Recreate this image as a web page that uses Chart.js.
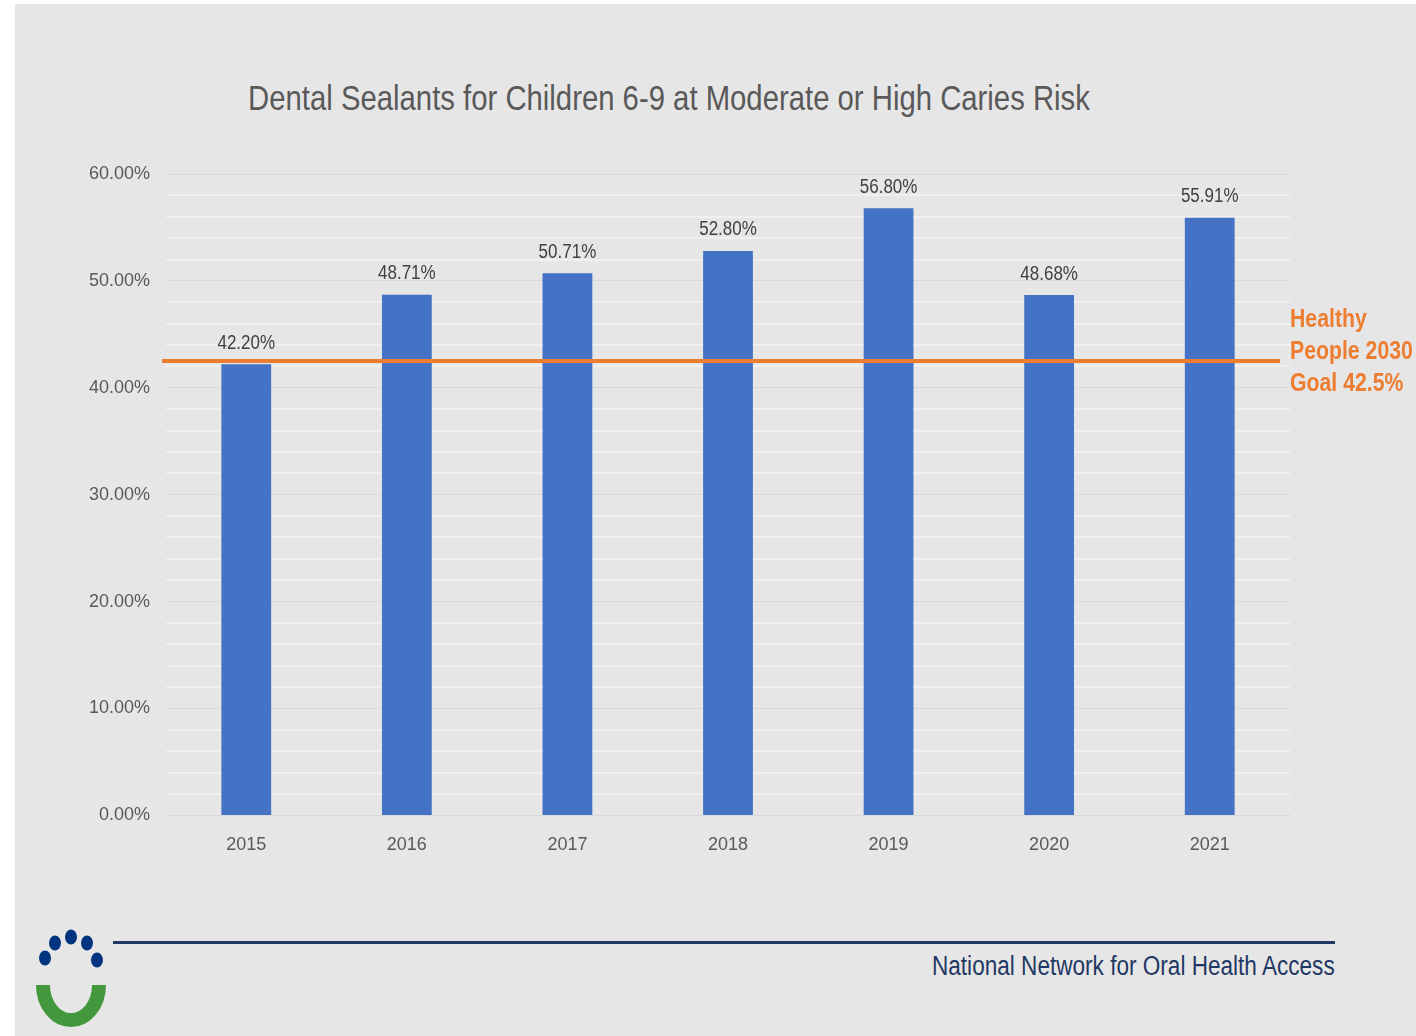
<!DOCTYPE html>
<html>
<head>
<meta charset="utf-8">
<script src="https://cdn.jsdelivr.net/npm/chart.js@4.4.1/dist/chart.umd.min.js"></script>
<style>
  html, body { margin: 0; padding: 0; background: #fff; }
  body { width: 1416px; height: 1036px; position: relative; overflow: hidden; font-family: "Liberation Sans", Arial, sans-serif; }
  #bg { position: absolute; left: 15px; top: 4px; right: 0; bottom: 0; background: #e7e6e6; }
  #title { position: absolute; left: 669px; top: 78px; transform: translateX(-50%) scaleX(0.837); white-space: nowrap; font-size: 35px; color: #595959; }
  #wrap { position: absolute; left: 0; top: 0; width: 1416px; height: 900px; }
  #rule { position: absolute; left: 113px; top: 941px; width: 1222px; height: 3px; background: #1f3864; }
  #org { position: absolute; right: 81px; top: 951px; font-size: 27px; color: #1f3864; white-space: nowrap; transform: scaleX(0.836); transform-origin: right center; }
  #logo { position: absolute; left: 30px; top: 925px; }
</style>
</head>
<body>
<div id="bg"></div>
<div id="title">Dental Sealants for Children 6-9 at Moderate or High Caries Risk</div>
<div id="wrap"><canvas id="chart"></canvas></div>
<div id="rule"></div>
<div id="org">National Network for Oral Health Access</div>
<svg id="logo" width="90" height="110" viewBox="30 925 90 110">
  <g fill="#003380">
    <ellipse cx="45" cy="958" rx="6" ry="7.5"/>
    <ellipse cx="55" cy="943" rx="6" ry="7.5"/>
    <ellipse cx="71" cy="937" rx="6" ry="7.5"/>
    <ellipse cx="87" cy="943" rx="6" ry="7.5"/>
    <ellipse cx="97" cy="960" rx="6" ry="7.5"/>
  </g>
  <path d="M 43 985 A 28 35 0 0 0 99 985" fill="none" stroke="#43973c" stroke-width="14"/>
</svg>
<script>
const years = ['2015', '2016', '2017', '2018', '2019', '2020', '2021'];
const sealantRates = [42.20, 48.71, 50.71, 52.80, 56.80, 48.68, 55.91];
const goalValue = 42.5;
const goalLabel = ['Healthy', 'People 2030', 'Goal 42.5%'];
const yTicks = [0, 10, 20, 30, 40, 50, 60];

const FONT = '"Liberation Sans", Arial, sans-serif';
const GREY_TXT = '#595959';
const SQUEEZE = 0.85; // reference font is narrower than anything installed

function narrowText(ctx, text, x, y) {
  ctx.save();
  ctx.translate(x, y);
  ctx.scale(SQUEEZE, 1);
  ctx.fillText(text, 0, 0);
  ctx.restore();
}

// bar value labels + goal line + goal caption
const extras = {
  id: 'extras',
  afterDatasetsDraw(chart) {
    const { ctx, chartArea, scales } = chart;
    const meta = chart.getDatasetMeta(0);
    ctx.save();
    ctx.font = '20px ' + FONT;
    ctx.fillStyle = '#404040';
    ctx.textAlign = 'center';
    ctx.textBaseline = 'bottom';
    meta.data.forEach((bar, i) => {
      narrowText(ctx, sealantRates[i].toFixed(2) + '%', bar.x, bar.y - 11);
    });

    const gy = scales.y.getPixelForValue(goalValue);
    ctx.strokeStyle = '#ed7d31';
    ctx.lineWidth = 4;
    ctx.beginPath();
    ctx.moveTo(chartArea.left - 4, gy);
    ctx.lineTo(chartArea.right - 10, gy);
    ctx.stroke();

    ctx.font = 'bold 25px ' + FONT;
    ctx.fillStyle = '#ed7d31';
    ctx.textAlign = 'left';
    ctx.textBaseline = 'middle';
    goalLabel.forEach((t, i) => narrowText(ctx, t, chartArea.right, gy - 41 + i * 32));
    ctx.restore();
  }
};

new Chart(document.getElementById('chart'), {
  type: 'bar',
  data: {
    labels: years,
    datasets: [{
      data: sealantRates,
      backgroundColor: '#4472c4',
      categoryPercentage: 1,
      barPercentage: 0.31
    }]
  },
  options: {
    responsive: true,
    maintainAspectRatio: false,
    animation: false,
    layout: { padding: { left: 80, right: 126, top: 174, bottom: 33 } },
    plugins: { legend: { display: false }, tooltip: { enabled: false } },
    scales: {
      x: {
        grid: { display: false },
        border: { color: '#d9d9d9', width: 1 },
        ticks: { color: GREY_TXT, font: { family: FONT, size: 18 }, padding: 11 }
      },
      y: {
        min: 0, max: 60,
        afterFit(scale) { scale.width = 86; },
        afterBuildTicks(scale) {
          const t = [];
          for (let v = 0; v <= 60; v += 2) t.push({ value: v });
          scale.ticks = t;
        },
        border: { display: false },
        grid: {
          drawTicks: false,
          color: c => (yTicks.includes(c.tick.value) ? '#d9d9d9' : '#f0f0f0'),
          lineWidth: c => (yTicks.includes(c.tick.value) ? 1 : 2)
        },
        ticks: {
          autoSkip: false,
          padding: 16,
          color: GREY_TXT,
          font: { family: FONT, size: 18 },
          callback: v => (yTicks.includes(v) ? v.toFixed(2) + '%' : '')
        }
      }
    }
  },
  plugins: [extras]
});
</script>
</body>
</html>
